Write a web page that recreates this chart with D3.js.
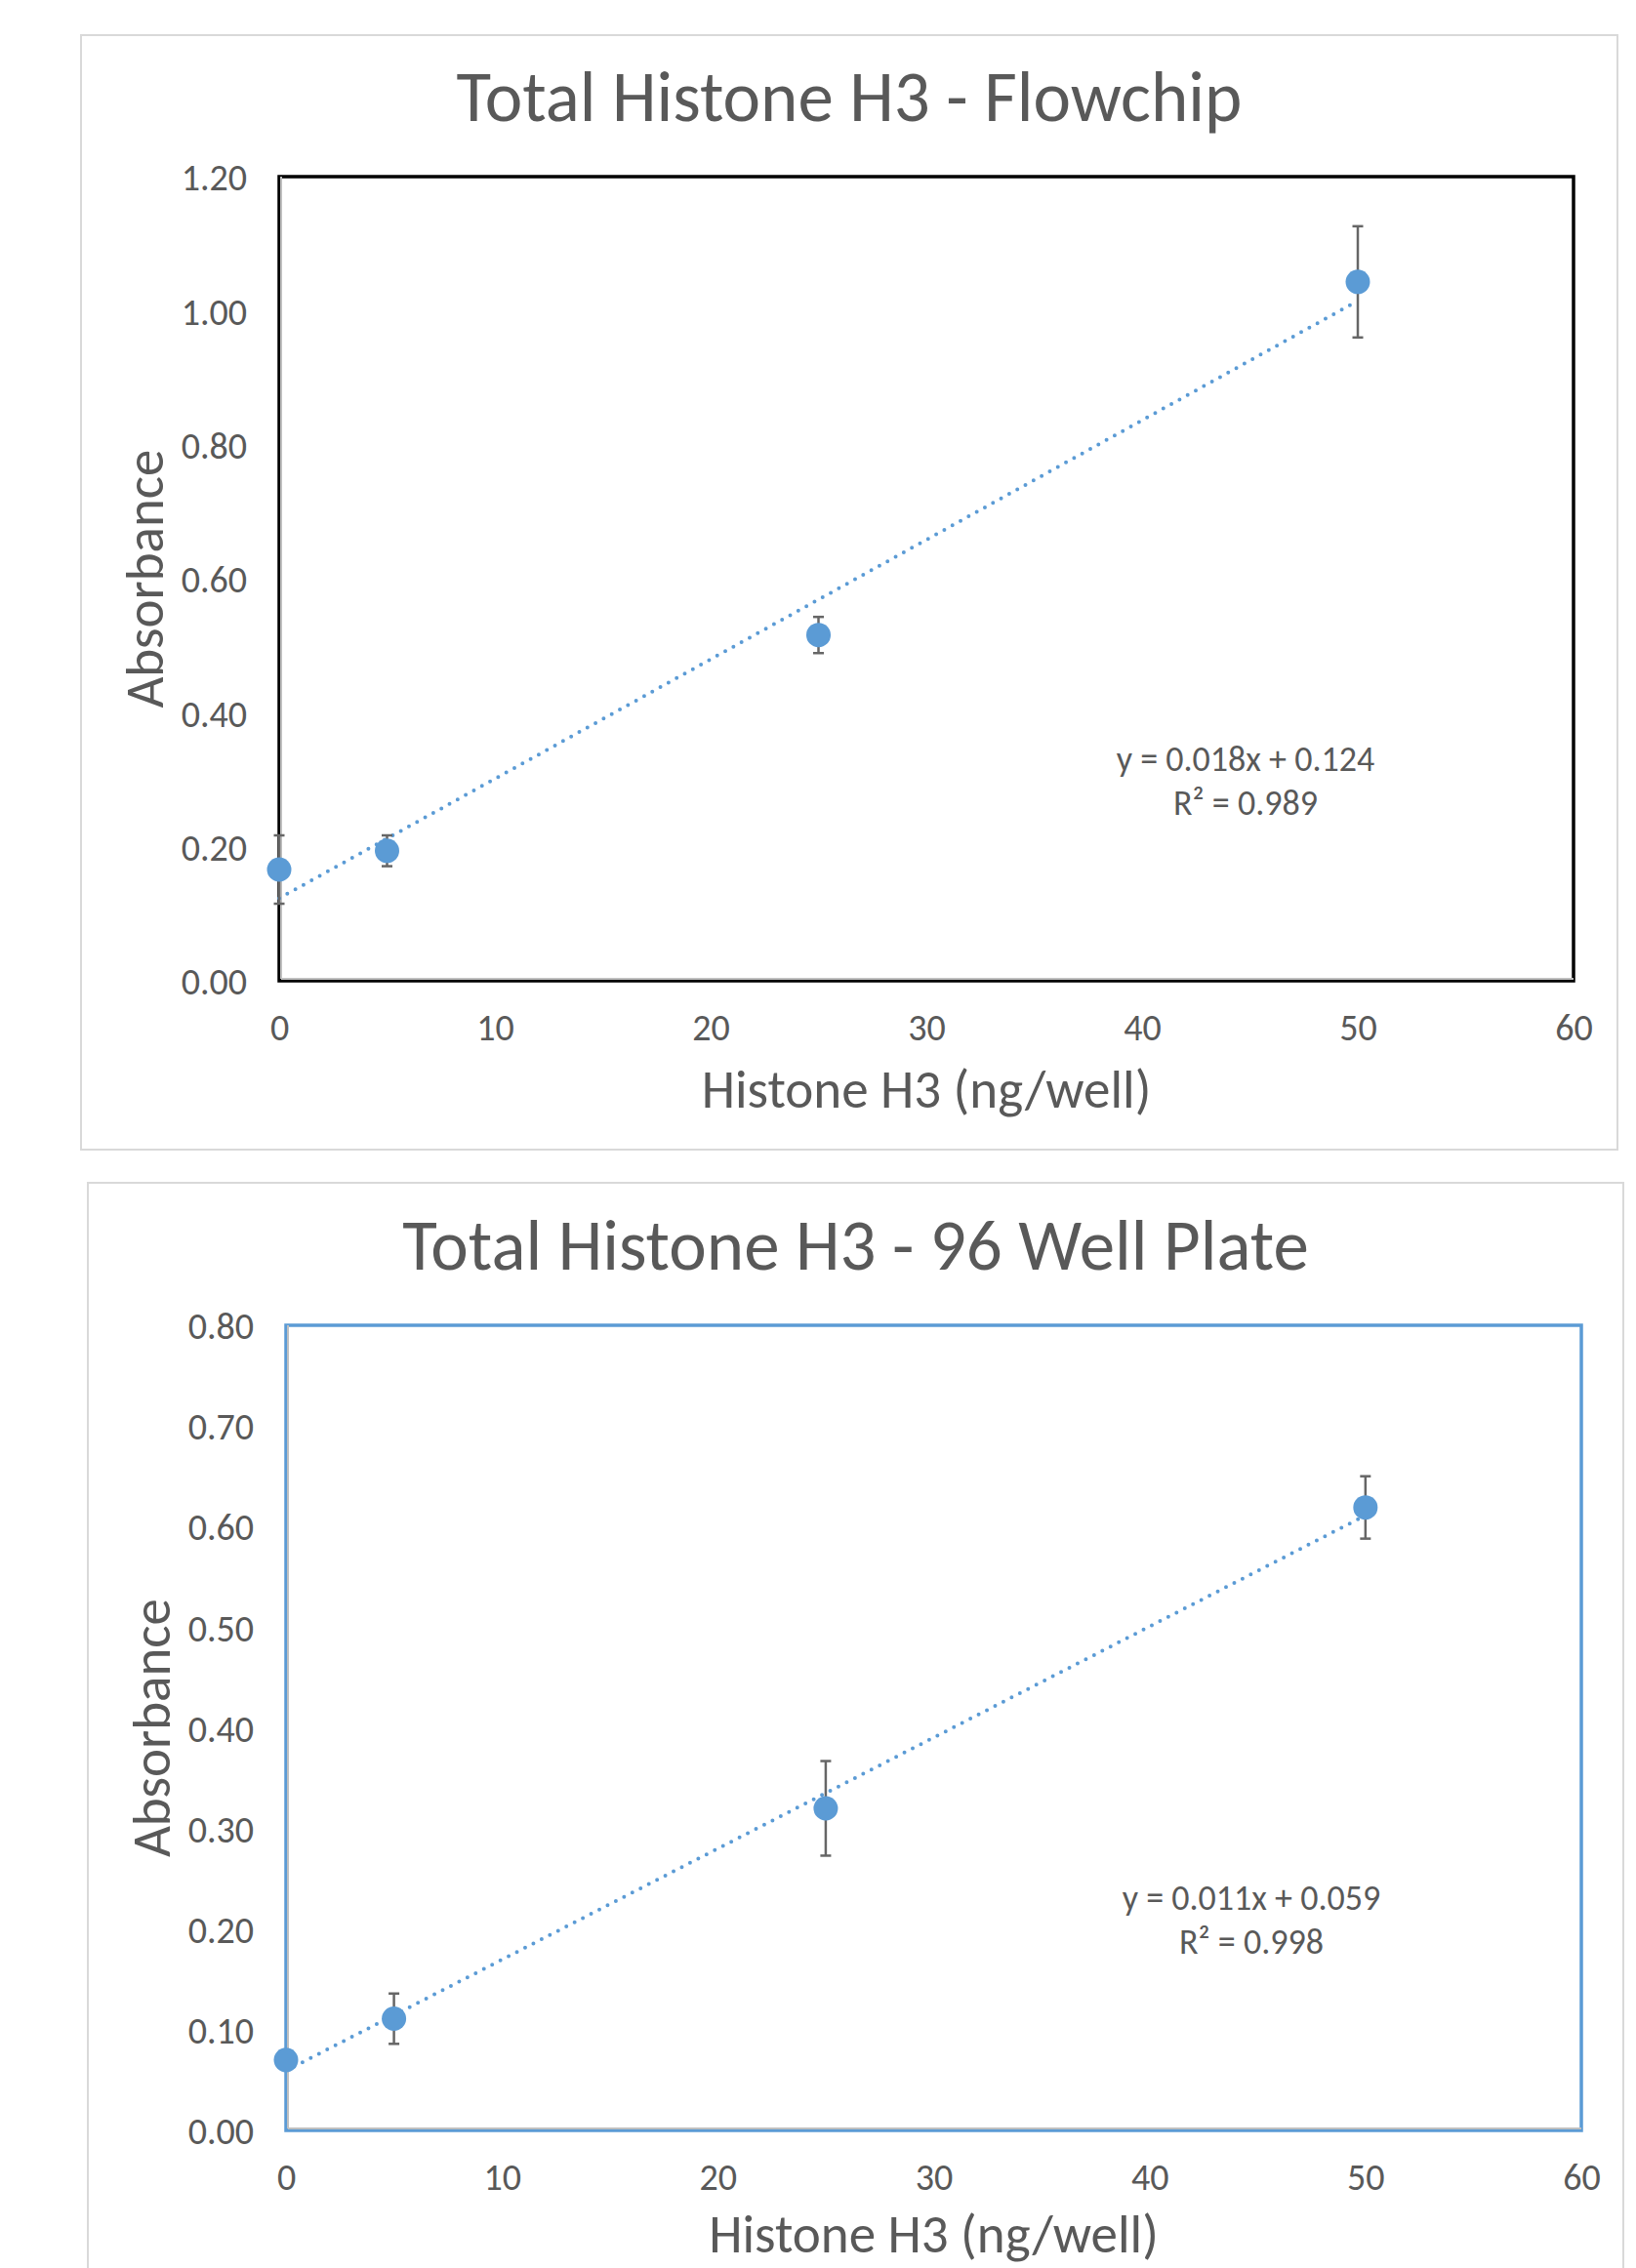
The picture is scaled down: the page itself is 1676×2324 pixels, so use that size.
<!DOCTYPE html>
<html>
<head>
<meta charset="utf-8">
<script src="https://cdn.jsdelivr.net/npm/d3@7"></script>
<style>
  html, body { margin: 0; padding: 0; background: #fff; }
  svg text { font-family: Carlito, Calibri, Lato, sans-serif; fill: #595959; }
</style>
</head>
<body>
<div id="chart"></div>
<script>
// Concentrations (ng/well) used on both plates
const concentrations = [0, 5, 25, 50];

// Flowchip absorbance (mean, error)
const flowchipMean = [0.166, 0.194, 0.516, 1.043];
const flowchipErr = [0.051, 0.023, 0.027, 0.083];

// 96 well plate absorbance (mean, error)
const plateMean = [0.070, 0.111, 0.320, 0.619];
const plateErr = [0.004, 0.025, 0.047, 0.031];

const xTicks = [0, 10, 20, 30, 40, 50, 60];
const flowchipYTicks = [0, 0.2, 0.4, 0.6, 0.8, 1.0, 1.2];
const plateYTicks = [0, 0.1, 0.2, 0.3, 0.4, 0.5, 0.6, 0.7, 0.8];

const W = 1676, H = 2324;
const blue = '#5b9bd5';

const svg = d3.select('#chart').append('svg')
  .attr('width', W).attr('height', H);

function linearFit(xs, ys) {
  const mx = d3.mean(xs), my = d3.mean(ys);
  let sxy = 0, sxx = 0;
  xs.forEach((x, i) => { sxy += (x - mx) * (ys[i] - my); sxx += (x - mx) ** 2; });
  const slope = sxy / sxx;
  return { slope, intercept: my - slope * mx };
}

function drawChart(cfg) {
  const { box, plot } = cfg;
  const g = svg.append('g');

  // outer chart frame
  g.append('rect')
    .attr('x', box.x).attr('y', box.y)
    .attr('width', box.w).attr('height', box.h)
    .style('fill', '#fff').style('stroke', '#d9d9d9').style('stroke-width', 2);

  const x = d3.scaleLinear().domain([0, 60]).range([plot.left, plot.right]);
  const y = d3.scaleLinear().domain([0, cfg.yMax]).range([plot.bottom, plot.top]);

  // title
  g.append('text')
    .attr('x', box.x + box.w / 2).attr('y', cfg.titleY)
    .attr('text-anchor', 'middle')
    .style('font-size', '73px')
    .text(cfg.title);

  // axes
  const xAxis = g.append('g')
    .attr('transform', `translate(0,${plot.bottom})`)
    .call(d3.axisBottom(x).tickValues(xTicks).tickSize(0).tickPadding(0).tickFormat(d3.format('d')));
  xAxis.select('.domain').remove();
  xAxis.selectAll('text')
    .attr('y', 61).attr('dy', 0)
    .style('font-size', '38px').style('font-family', null);

  const yAxis = g.append('g')
    .attr('transform', `translate(${plot.left},0)`)
    .call(d3.axisLeft(y).tickValues(cfg.yTicks).tickSize(0).tickFormat(d3.format('.2f')));
  yAxis.select('.domain').remove();
  yAxis.selectAll('text')
    .attr('x', -33).attr('dy', '0.36em')
    .style('font-size', '38px').style('font-family', null);

  // plot border
  g.append('rect')
    .attr('x', plot.left).attr('y', plot.top)
    .attr('width', plot.right - plot.left).attr('height', plot.bottom - plot.top)
    .style('fill', 'none').style('stroke', cfg.borderColor).style('stroke-width', 3.5);

  // axis lines
  g.append('line')
    .attr('x1', plot.left + 2).attr('x2', plot.left + 2)
    .attr('y1', plot.top).attr('y2', plot.bottom - 2)
    .style('stroke', '#bfbfbf').style('stroke-width', 2);
  g.append('line')
    .attr('x1', plot.left + 2).attr('x2', plot.right)
    .attr('y1', plot.bottom - 2).attr('y2', plot.bottom - 2)
    .style('stroke', '#bfbfbf').style('stroke-width', 2);

  // axis titles
  g.append('text')
    .attr('x', (plot.left + plot.right) / 2).attr('y', plot.bottom + cfg.xTitleOffset)
    .attr('text-anchor', 'middle')
    .style('font-size', '55px')
    .text('Histone H3 (ng/well)');
  g.append('text')
    .attr('transform', `translate(${cfg.yTitleX},${(plot.top + plot.bottom) / 2}) rotate(-90)`)
    .attr('text-anchor', 'middle')
    .style('font-size', '55px')
    .text('Absorbance');

  // trendline
  const fit = linearFit(concentrations, cfg.means);
  const x0 = d3.min(concentrations), x1 = d3.max(concentrations);
  g.append('line')
    .attr('x1', x(x0)).attr('y1', y(fit.intercept + fit.slope * x0))
    .attr('x2', x(x1)).attr('y2', y(fit.intercept + fit.slope * x1))
    .style('stroke', blue).style('stroke-width', 4)
    .style('stroke-linecap', 'round').style('stroke-dasharray', '0 9.5');

  // error bars
  const pts = concentrations.map((c, i) => ({ c, m: cfg.means[i], e: cfg.errs[i] }));
  const eb = g.append('g').style('stroke', '#666').style('stroke-width', 2.5);
  pts.forEach(p => {
    eb.append('line')
      .attr('x1', x(p.c)).attr('x2', x(p.c))
      .attr('y1', y(p.m - p.e)).attr('y2', y(p.m + p.e));
    [p.m - p.e, p.m + p.e].forEach(v => {
      eb.append('line')
        .attr('x1', x(p.c) - 5.5).attr('x2', x(p.c) + 5.5)
        .attr('y1', y(v)).attr('y2', y(v));
    });
  });

  // points
  g.selectAll('circle.pt').data(pts).enter().append('circle')
    .attr('class', 'pt')
    .attr('cx', d => x(d.c)).attr('cy', d => y(d.m)).attr('r', 12.5)
    .style('fill', blue);

  // equation label
  g.append('text')
    .attr('x', cfg.eqX).attr('y', cfg.eqY)
    .attr('text-anchor', 'middle')
    .style('font-size', '36px')
    .text(cfg.equation);
  g.append('text')
    .attr('x', cfg.eqX).attr('y', cfg.eqY + 45)
    .attr('text-anchor', 'middle')
    .style('font-size', '36px')
    .text(cfg.r2);
}

drawChart({
  box: { x: 83, y: 36, w: 1574, h: 1142 },
  plot: { left: 286, right: 1612, top: 181, bottom: 1005 },
  title: 'Total Histone H3 - Flowchip',
  titleY: 124,
  yMax: 1.2,
  yTicks: flowchipYTicks,
  means: flowchipMean,
  errs: flowchipErr,
  borderColor: '#000',
  yTitleX: 167,
  xTitleOffset: 130,
  equation: 'y = 0.018x + 0.124',
  r2: 'R² = 0.989',
  eqX: 1276, eqY: 790
});

drawChart({
  box: { x: 90, y: 1212, w: 1573, h: 1200 },
  plot: { left: 293, right: 1620, top: 1358, bottom: 2183 },
  title: 'Total Histone H3 - 96 Well Plate',
  titleY: 1301,
  yMax: 0.8,
  yTicks: plateYTicks,
  means: plateMean,
  errs: plateErr,
  borderColor: blue,
  yTitleX: 174,
  xTitleOffset: 125,
  equation: 'y = 0.011x + 0.059',
  r2: 'R² = 0.998',
  eqX: 1282, eqY: 1957
});
</script>
</body>
</html>
